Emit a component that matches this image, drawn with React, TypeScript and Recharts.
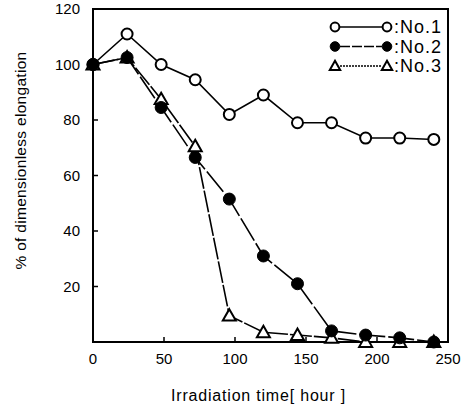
import React from 'react';
import {
  LineChart,
  Line,
  XAxis,
  YAxis,
  Legend,
  ReferenceArea,
  Label,
} from 'recharts';

const hours = [0, 24, 48, 72, 96, 120, 144, 168, 192, 216, 240];
const no1 = [100, 111, 100, 94.5, 82, 89, 79, 79, 73.5, 73.5, 73];
const no2 = [100, 102.5, 84.5, 66.5, 51.5, 31, 21, 4, 2.5, 1.5, 0];
const no3 = [100, 102.5, 87.5, 70.5, 9.5, 3.5, 2.5, 1.5, 0, 0, 0];
const xTicks = [0, 50, 100, 150, 200, 250];
const yTicks = [20, 40, 60, 80, 100, 120];

const data = hours.map((h, i) => ({ h, no1: no1[i], no2: no2[i], no3: no3[i] }));

type Shape = 'open' | 'filled' | 'triangle';

const series: { key: string; name: string; shape: Shape; dash?: string; legendDash?: string }[] = [
  { key: 'no1', name: ':No.1', shape: 'open' },
  { key: 'no3', name: ':No.3', shape: 'triangle', dash: '22 2', legendDash: '2 1' },
  { key: 'no2', name: ':No.2', shape: 'filled', dash: '26 3', legendDash: '10 2' },
];
const legendOrder = ['no1', 'no2', 'no3'];

const FONT = '"Liberation Sans", Arial, sans-serif';

function marker(shape: Shape, cx: number, cy: number, key?: string | number, small = false) {
  const k = small ? 0.8 : 1;
  if (shape === 'open') {
    return <circle key={key} cx={cx} cy={cy} r={5.5 * k} fill="#fff" stroke="#000" strokeWidth={2} />;
  }
  if (shape === 'filled') {
    return <circle key={key} cx={cx} cy={cy} r={6 * k} fill="#000" stroke="#000" strokeWidth={1} />;
  }
  const s = 6.5 * k;
  return (
    <path
      key={key}
      d={`M${cx},${cy - s} L${cx + s},${cy + s * 0.75} L${cx - s},${cy + s * 0.75} Z`}
      fill="#fff"
      stroke="#000"
      strokeWidth={2}
      strokeLinejoin="miter"
    />
  );
}

const LegendBox = () => (
  <svg width={130} height={68}>
    {legendOrder.map((k, i) => {
      const s = series.find((d) => d.key === k)!;
      const cy = 13 + i * 19.5;
      return (
        <g key={k}>
          <line x1={18} x2={60} y1={cy} y2={cy} stroke="#000" strokeWidth={1.5} strokeDasharray={s.legendDash} />
          {marker(s.shape, 13, cy, undefined, true)}
          {marker(s.shape, 65, cy, undefined, true)}
          <text x={72} y={cy} dominantBaseline="central" fontFamily={FONT} fontSize={18} letterSpacing={1} fill="#000">
            {s.name}
          </text>
        </g>
      );
    })}
  </svg>
);

const tickStyle = { fill: '#000', fontSize: 15, fontFamily: FONT };

export default function App() {
  return (
    <div style={{ position: 'absolute', left: 0, top: 0, width: 468, height: 408, background: '#fff' }}>
      <LineChart width={468} height={408} data={data} margin={{ top: 9, right: 20, left: 0, bottom: 16 }}>
        <XAxis
          dataKey="h"
          type="number"
          domain={[0, 250]}
          ticks={xTicks}
          height={50}
          tick={tickStyle}
          tickSize={-5}
          tickMargin={16}
          axisLine={{ stroke: '#000', strokeWidth: 2 }}
          tickLine={{ stroke: '#000', strokeWidth: 1.5 }}
        >
          <Label
            content={({ viewBox }: any) => (
              <text
                x={viewBox.x + viewBox.width / 2 - 12}
                y={viewBox.y + 53}
                textAnchor="middle"
                dominantBaseline="central"
                fontFamily={FONT}
                fontSize={16}
                letterSpacing={0.8}
                fill="#000"
              >
                Irradiation time[ hour ]
              </text>
            )}
          />
        </XAxis>
        <YAxis
          type="number"
          domain={[0, 120]}
          ticks={yTicks}
          width={93}
          tick={tickStyle}
          tickSize={-5}
          tickMargin={18}
          axisLine={{ stroke: '#000', strokeWidth: 2 }}
          tickLine={{ stroke: '#000', strokeWidth: 1.5 }}
        >
          <Label
            content={({ viewBox }: any) => {
              const cx = viewBox.x + 20;
              const cy = viewBox.y + viewBox.height / 2 - 15;
              return (
                <text
                  x={cx}
                  y={cy}
                  transform={`rotate(-90 ${cx} ${cy})`}
                  textAnchor="middle"
                  dominantBaseline="central"
                  fontFamily={FONT}
                  fontSize={15.5}
                  letterSpacing={0.3}
                  fill="#000"
                >
                  % of dimensionless elongation
                </text>
              );
            }}
          />
        </YAxis>
        <ReferenceArea x1={0} x2={250} y1={0} y2={120} fill="none" stroke="#000" strokeWidth={2} />
        {series.map((s) => (
          <Line
            key={s.key}
            dataKey={s.key}
            type="linear"
            stroke="#000"
            strokeWidth={1.6}
            strokeDasharray={s.dash}
            isAnimationActive={false}
            dot={(p: any) => marker(s.shape, p.cx, p.cy, p.key ?? `${s.key}-${p.index}`)}
            activeDot={false}
          />
        ))}
        <Legend
          layout="horizontal"
          verticalAlign="middle"
          align="center"
          wrapperStyle={{ top: 14, left: 322, width: 130 }}
          content={() => <LegendBox />}
        />
      </LineChart>
    </div>
  );
}
